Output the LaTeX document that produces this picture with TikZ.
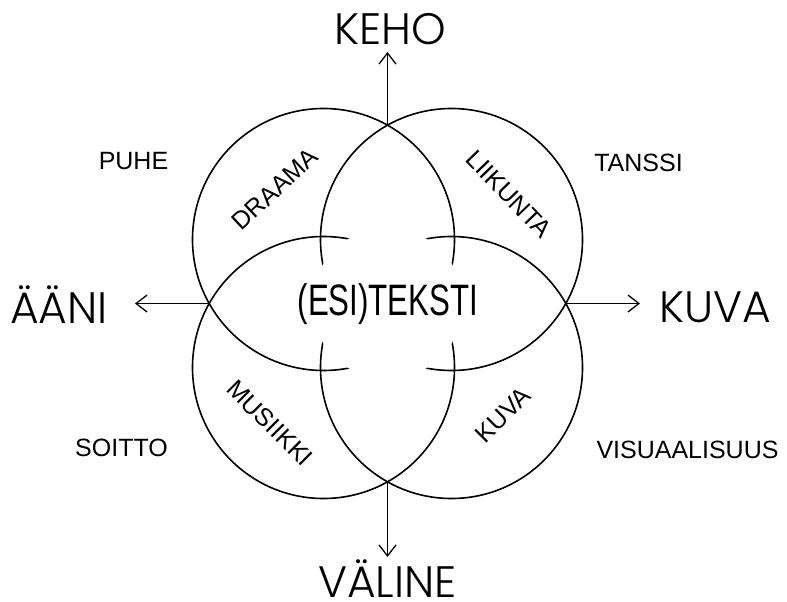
\documentclass[tikz,border=0pt]{standalone}
\usepackage{fontspec}
\setmainfont{Liberation Sans}
\newfontfamily\geo{Poppins Light}
\usetikzlibrary{arrows.meta}
\begin{document}
\begin{tikzpicture}[x=1pt,y=-1pt,
  ring/.style={line width=1.6pt},
  arr/.style={line width=1.3pt,-{Straight Barb[length=11pt,width=17pt,line width=1.3pt]}},
  big/.style={font=\geo\fontsize{44}{44}\selectfont, inner sep=0pt, anchor=base},
  small/.style={font=\fontsize{25}{25}\selectfont, inner sep=0pt, anchor=base},
  arc/.style={font=\fontsize{25}{25}\selectfont, inner sep=0pt, anchor=center},
]
\useasboundingbox (0,0) rectangle (787,602);
\coordinate (C) at (387.5,303.5);
\coordinate (ctl) at (323.5,239.5);
\coordinate (ctr) at (451.5,239.5);
\coordinate (cbl) at (323.5,367.5);
\coordinate (cbr) at (451.5,367.5);
\draw[ring] (ctl) circle (131pt);
\draw[ring] (ctr) circle (131pt);
\draw[ring] (cbl) circle (131pt);
\draw[ring] (cbr) circle (131pt);
\fill[white] (C) circle (75.5pt);
\coordinate (top) at (387.5,125.2);
\coordinate (bot) at (387.5,481.8);
\coordinate (lft) at (209.2,303.5);
\coordinate (rgt) at (565.8,303.5);
\coordinate (ttip) at (387.5,52);
\coordinate (btip) at (387.5,557);
\coordinate (ltip) at (135,303.5);
\coordinate (rtip) at (640,303.5);
\draw[arr] (top) -- (ttip);
\draw[arr] (bot) -- (btip);
\draw[arr] (lft) -- (ltip);
\draw[arr] (rgt) -- (rtip);
\node[big] (keho) at (390,45) {KEHO};
\node[big] (valine) at (387.5,597) {VÄLINE};
\node[big] (aani) at (59,323) {ÄÄNI};
\node[big] (kuvabig) at (715.5,322) {KUVA};
\node[small] (puhe) at (133.5,169) {PUHE};
\node[small] (tanssi) at (638.5,171) {TANSSI};
\node[small] (soitto) at (121.5,456) {SOITTO};
\node[small] (visu) at (687.5,458) {VISUAALISUUS};
\node[arc, rotate=43] (draama) at (275,189) {DRAAMA};
\node[arc, rotate=-46] (liikunta) at (509,194) {LIIKUNTA};
\node[arc, rotate=-45] (musiikki) at (270,423) {MUSIIKKI};
\node[arc, rotate=45] (kuva) at (503,415) {KUVA};
\node[inner sep=0pt, anchor=base] (esi) at (388,315)
  {\scalebox{0.71}[1]{\fontsize{44}{44}\selectfont (ESI)TEKSTI}};
\end{tikzpicture}
\end{document}
